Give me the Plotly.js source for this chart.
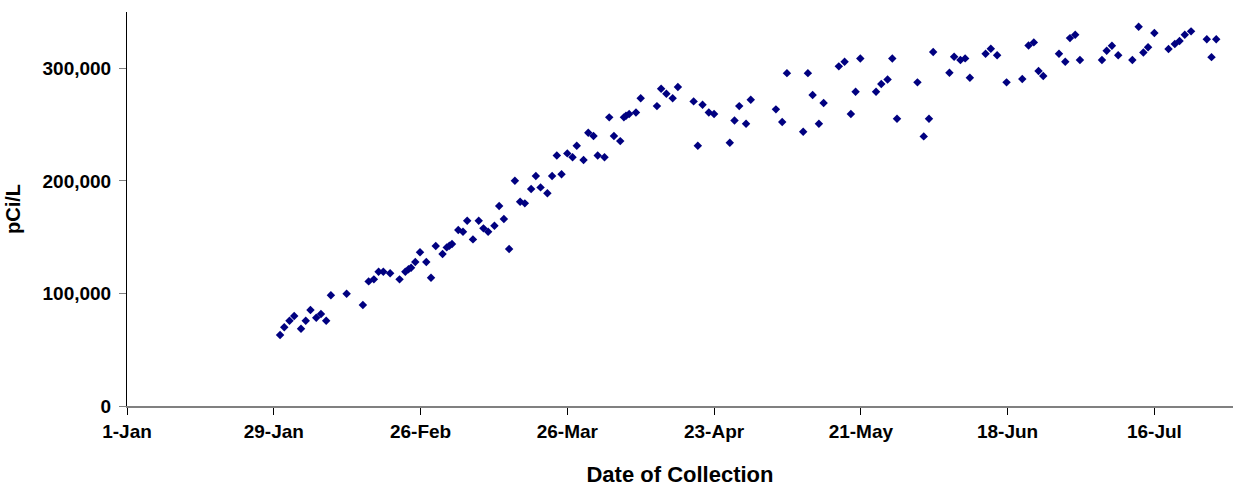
<!DOCTYPE html>
<html>
<head>
<meta charset="utf-8">
<script src="https://cdn.plot.ly/plotly-3.0.1.min.js"></script>
<style>html,body{margin:0;padding:0;background:#fff;}#chart{width:1238px;height:487px;}</style>
</head>
<body>
<div id="chart"></div>
<script>
// Days since 1-Jan of each sample collection (fractional = time of day)
const collectionDays = [
  29.2, 30.0, 31.0, 31.9, 33.2, 34.1, 35.0, 36.1, 37.0, 38.0,
  38.9, 41.9, 45.0, 46.1, 47.1, 48.0, 48.9, 50.2, 52.0, 53.1,
  53.7, 54.2, 55.0, 55.9, 57.1, 58.0, 58.9, 60.2, 61.0, 61.5,
  62.0, 63.2, 64.1, 64.9, 66.0, 67.1, 68.0, 68.9, 70.1, 71.0,
  71.9, 72.9, 74.0, 75.0, 75.9, 77.1, 78.0, 78.9, 80.2, 81.1,
  82.0, 82.9, 84.0, 85.0, 85.8, 87.1, 88.0, 89.0, 89.8, 91.1,
  92.0, 92.9, 94.1, 94.8, 95.2, 95.8, 97.1, 98.0, 101.1, 101.9,
  102.9, 104.1, 105.1, 108.1, 108.9, 109.8, 111.0, 112.0, 115.0, 115.9,
  116.8, 118.1, 119.0, 123.8, 125.0, 125.9, 129.0, 129.9, 130.8, 132.0,
  132.9, 135.8, 136.9, 138.1, 139.0, 139.9, 142.9, 143.9, 145.1, 146.0,
  146.9, 150.8, 152.0, 153.0, 153.8, 156.9, 157.8, 159.0, 159.9, 160.8,
  163.8, 164.8, 166.0, 167.8, 170.8, 172.0, 173.0, 173.9, 174.8, 177.8,
  179.0, 179.9, 180.9, 181.8, 186.0, 186.9, 187.9, 189.1, 191.8, 193.0,
  193.9, 194.8, 196.0, 198.7, 199.9, 200.8, 201.8, 203.0, 206.0, 206.9,
  207.8
];
// Activity, pCi/L
const activity = [
  63100, 69900, 75800, 79900, 68600, 75800, 85300, 78400, 81700, 75800,
  98300, 99700, 89700, 110700, 112500, 119300, 119300, 117900, 112500, 119300,
  121400, 122800, 127900, 136500, 127900, 113900, 142100, 135000, 140900, 142400,
  143900, 156300, 154800, 164600, 148000, 164600, 157800, 154800, 160100, 177600,
  166100, 139400, 200100, 181400, 180000, 192700, 204300, 194200, 188900, 204300,
  222600, 205800, 224400, 220900, 231200, 218500, 242700, 239800, 222600, 220900,
  256400, 239800, 235300, 256400, 257800, 259300, 260800, 273300, 266400, 281800,
  277400, 273300, 283300, 270600, 231100, 267600, 260800, 259300, 233800, 253700,
  266400, 250700, 272000, 263500, 252200, 295700, 243600, 295700, 276200, 250700,
  269100, 301700, 305800, 259300, 279100, 308700, 279100, 286000, 290100, 308700,
  255200, 287500, 239500, 255200, 314400, 296000, 310200, 307300, 308800, 291600,
  312900, 317300, 311500, 287500, 290400, 320300, 323000, 297500, 293100, 312900,
  305800, 326800, 329700, 307300, 307300, 315500, 320000, 311500, 307300, 336900,
  314000, 318600, 331300, 317100, 321500, 324200, 329700, 332800, 325700, 309900,
  325700
];
const yearStart = Date.UTC(2007, 0, 1);
const dayMs = 86400000;
function toDateStr(d) {
  return new Date(yearStart + d * dayMs).toISOString().slice(0, 19).replace('T', ' ');
}
const xDates = collectionDays.map(toDateStr);

const fontFam = '"Liberation Sans", Arial, sans-serif';

const trace = {
  type: 'scatter',
  mode: 'markers',
  x: xDates,
  y: activity,
  marker: {symbol: 'diamond', size: 6.5, color: '#000080', line: {width: 0}},
  hoverinfo: 'x+y'
};

const layout = {
  width: 1238,
  height: 487,
  margin: {l: 127, r: 5, t: 12, b: 81},
  paper_bgcolor: '#ffffff',
  plot_bgcolor: '#ffffff',
  showlegend: false,
  font: {family: fontFam, color: '#000000'},
  xaxis: {
    type: 'date',
    range: [toDateStr(0), toDateStr(211)],
    tick0: toDateStr(0),
    dtick: 28 * dayMs,
    tickformat: '%-d-%b',
    showgrid: false,
    zeroline: false,
    showline: true,
    linecolor: '#808080',
    linewidth: 2,
    ticks: 'outside',
    ticklen: 7,
    tickcolor: '#000000',
    tickwidth: 1,
    tickfont: {family: fontFam, size: 19, weight: 700, color: '#000000'},
    title: {text: 'Date of Collection', font: {family: fontFam, size: 22, weight: 700, color: '#000000'}}
  },
  yaxis: {
    range: [0, 350000],
    dtick: 100000,
    tickformat: ',d',
    showgrid: false,
    zeroline: false,
    showline: true,
    linecolor: '#000000',
    linewidth: 1,
    ticks: 'outside',
    ticklen: 7,
    tickcolor: '#808080',
    tickwidth: 1,
    ticklabelstandoff: 4,
    automargin: true,
    tickfont: {family: fontFam, size: 19, weight: 700, color: '#000000'},
    title: {text: 'pCi/L', standoff: 16, font: {family: fontFam, size: 20, weight: 700, color: '#000000'}}
  }
};

Plotly.newPlot('chart', [trace], layout, {displayModeBar: false, staticPlot: true});
</script>
</body>
</html>
